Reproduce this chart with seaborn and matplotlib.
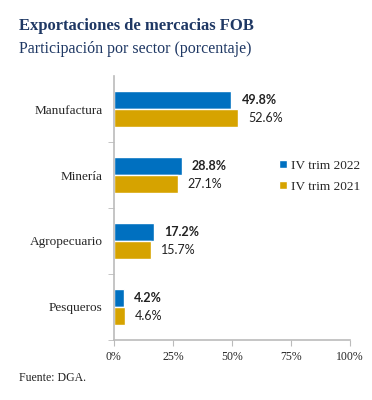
import numpy as np
import matplotlib.pyplot as plt
import pandas as pd
import seaborn as sns

sectores = ['Manufactura', 'Minería', 'Agropecuario', 'Pesqueros']
trim_2022 = [49.8, 28.8, 17.2, 4.2]
trim_2021 = [52.6, 27.1, 15.7, 4.6]
series = ['IV trim 2022', 'IV trim 2021']
colores = ['#0070C0', '#D6A300']

df = pd.DataFrame({
    'sector': sectores * 2,
    'valor': trim_2022 + trim_2021,
    'serie': [series[0]] * 4 + [series[1]] * 4,
})

sns.set_style('white')
plt.rcParams['font.family'] = ['Liberation Serif', 'DejaVu Serif']

fig = plt.figure(figsize=(3.72, 4.0), dpi=100)
ax = fig.add_axes([0.306, 0.15, 0.635, 0.66])

sns.barplot(data=df, y='sector', x='valor', hue='serie', order=sectores,
            hue_order=series, palette=colores, orient='h', width=0.55,
            ax=ax, saturation=1)

# value labels
for i, cont in enumerate(ax.containers):
    for bar, v in zip(cont, [trim_2022, trim_2021][i]):
        y = bar.get_y() + bar.get_height() / 2
        ax.text(bar.get_width() + 4.2, y, f'{v:.1f}%', va='center', ha='left',
                fontsize=9, family='Lato',
                fontweight='bold' if i == 0 else 'normal', color='#222222')

ax.set_xlim(0, 100)
ax.set_ylim(3.5, -0.5)
ax.set_xticks([0, 25, 50, 75, 100])
ax.set_xticklabels(['0%', '25%', '50%', '75%', '100%'], fontsize=8.5)
ax.set_yticks(range(4))
ax.set_yticklabels(sectores, fontsize=9.5)
ax.set_yticks([0.5, 1.5, 2.5, 3.5], minor=True)
ax.tick_params(axis='y', which='major', length=0, pad=8)
ax.tick_params(axis='y', which='minor', length=4, color='#BBBBBB', direction='out', left=True)
ax.tick_params(axis='x', length=4, color='#BBBBBB', direction='out', bottom=True, pad=4)
ax.set_xlabel('')
ax.set_ylabel('')
for s in ['top', 'right']:
    ax.spines[s].set_visible(False)
for s in ['left', 'bottom']:
    ax.spines[s].set_color('#BBBBBB')
    ax.spines[s].set_linewidth(1.2)

ax.legend(loc='center left', bbox_to_anchor=(0.65, 0.62), frameon=False,
          fontsize=9.5, handlelength=0.6, handleheight=0.6, handletextpad=0.3,
          labelspacing=0.7)

fig.text(0.052, 0.925, 'Exportaciones de mercacias FOB', fontsize=12,
         fontweight='bold', color='#1F3864')
fig.text(0.052, 0.868, 'Participación por sector (porcentaje)', fontsize=11.5,
         color='#1F3864')
fig.text(0.052, 0.047, 'Fuente: DGA.', fontsize=8.5, color='#222222')

fig.savefig('out.png', dpi=100)
